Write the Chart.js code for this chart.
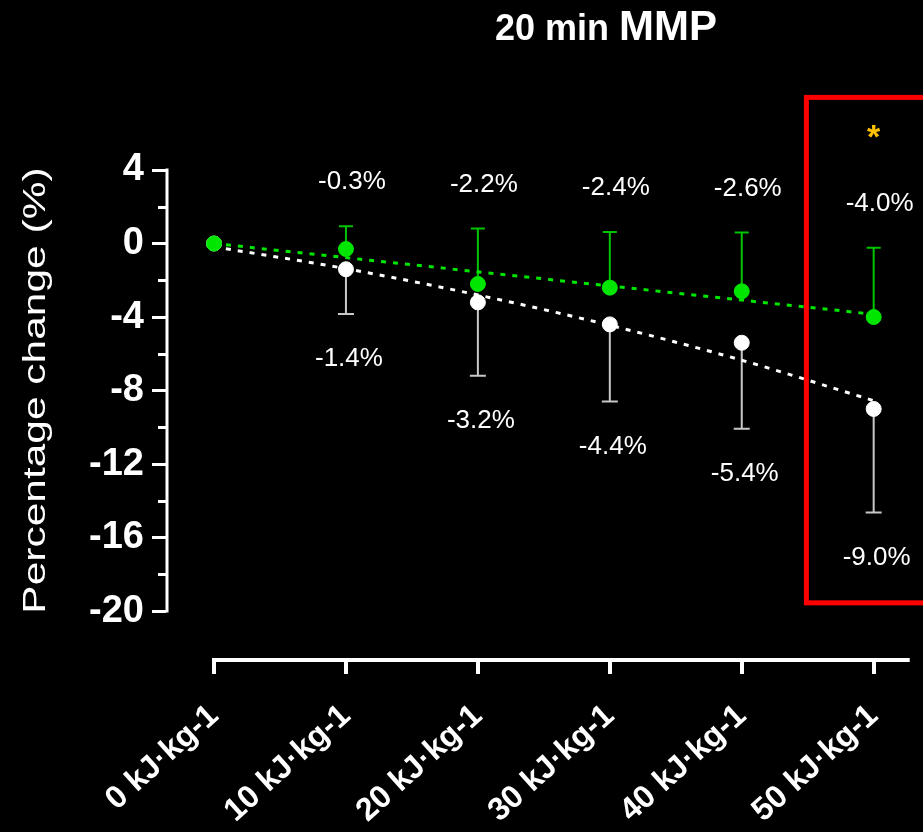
<!DOCTYPE html>
<html>
<head>
<meta charset="utf-8">
<script src="https://cdn.jsdelivr.net/npm/chart.js@4.4.1/dist/chart.umd.min.js"></script>
<style>
  html, body { margin: 0; padding: 0; background: #000; overflow: hidden; }
  #wrap { width: 923px; height: 832px; position: relative; }
</style>
</head>
<body>
<div id="wrap"><canvas id="mmp"></canvas></div>
<script>
// work done before the 20 min effort
const doseKJ = [0, 10, 20, 30, 40, 50];
const doseLabels = ['0 kJ·kg-1', '10 kJ·kg-1', '20 kJ·kg-1', '30 kJ·kg-1', '40 kJ·kg-1', '50 kJ·kg-1'];

// green group: mean % change and SD (bars drawn upwards)
const greenMean = [0, -0.3, -2.2, -2.4, -2.6, -4.0];
const greenSD = [0, 1.24, 3.02, 3.02, 3.2, 3.77];

// white group: mean % change and SD (bars drawn downwards)
const whiteMean = [0, -1.4, -3.2, -4.4, -5.4, -9.0];
const whiteSD = [0, 2.43, 3.99, 4.19, 4.68, 5.63];

// dotted trend lines
const greenTrendX = [0, 50];
const greenTrendY = [0, -3.85];
const whiteTrendY = [-0.18, -1.37, -2.8, -4.45, -6.35, -8.55];

const yTicks = [-20, -16, -12, -8, -4, 0, 4];
const yMinorTicks = [-18, -14, -10, -6, -2, 2];

const FONT = "'Liberation Sans', Arial, sans-serif";
const GREEN = '#00e600';
const WHITE = '#ffffff';

// error bars, value labels, axes lines, titles, highlight box
const decor = {
  id: 'decor',
  beforeDatasetsDraw(chart) {
    const ctx = chart.ctx, xs = chart.scales.x, ys = chart.scales.y;
    const bar = (dose, from, to, color, cap) => {
      const x = xs.getPixelForValue(dose);
      const y1 = ys.getPixelForValue(from), y2 = ys.getPixelForValue(to);
      ctx.strokeStyle = color;
      ctx.lineWidth = 2;
      ctx.beginPath();
      ctx.moveTo(x, y1); ctx.lineTo(x, y2);
      ctx.moveTo(x - cap, y2); ctx.lineTo(x + cap, y2);
      ctx.stroke();
    };
    ctx.save();
    for (let i = 1; i < doseKJ.length; i++) {
      bar(doseKJ[i], greenMean[i], greenMean[i] + greenSD[i], '#00c400', 7);
      bar(doseKJ[i], whiteMean[i], whiteMean[i] - whiteSD[i], '#c8c8c8', 8);
    }
    ctx.restore();
  },
  afterDraw(chart) {
    const ctx = chart.ctx, xs = chart.scales.x, ys = chart.scales.y, area = chart.chartArea;
    const o = chart.options.plugins.decor;
    ctx.save();

    // y axis line (stops at the outer ticks) + minor ticks
    ctx.strokeStyle = WHITE;
    ctx.lineWidth = 3;
    ctx.beginPath();
    ctx.moveTo(area.left + 1, ys.getPixelForValue(4) - 1.5);
    ctx.lineTo(area.left + 1, ys.getPixelForValue(-20) + 1.5);
    yMinorTicks.forEach(v => {
      const y = Math.round(ys.getPixelForValue(v)) + 0.5;
      ctx.moveTo(area.left + 2, y);
      ctx.lineTo(area.left - 8, y);
    });
    ctx.stroke();

    // x axis line, detached from the y axis
    ctx.lineWidth = 4;
    ctx.beginPath();
    ctx.moveTo(xs.getPixelForValue(0) - 2, area.bottom);
    ctx.lineTo(area.right, area.bottom);
    ctx.stroke();

    // value labels
    ctx.font = '26px ' + FONT;
    ctx.fillStyle = WHITE;
    ctx.textAlign = 'center';
    ctx.textBaseline = 'middle';
    for (let i = 1; i < doseKJ.length; i++) {
      const x = xs.getPixelForValue(doseKJ[i]);
      ctx.fillText(greenMean[i].toFixed(1) + '%', x + 6, ys.getPixelForValue(greenMean[i] + greenSD[i]) - 44);
      ctx.fillText(whiteMean[i].toFixed(1) + '%', x + 3, ys.getPixelForValue(whiteMean[i] - whiteSD[i]) + 45);
    }

    // highlight box and significance mark
    ctx.strokeStyle = '#ff0000';
    ctx.lineWidth = 5;
    const bx = xs.getPixelForValue(o.boxFrom);
    const by = ys.getPixelForValue(o.boxTop);
    const bb = ys.getPixelForValue(o.boxBottom);
    ctx.strokeRect(bx, by, chart.width + 20 - bx, bb - by);
    ctx.fillStyle = '#ffc000';
    ctx.font = 'bold 34px ' + FONT;
    ctx.fillText('*', xs.getPixelForValue(o.starAt[0]), ys.getPixelForValue(o.starAt[1]) + 6);

    // title with mixed sizes
    ctx.fillStyle = WHITE;
    ctx.textAlign = 'left';
    ctx.textBaseline = 'alphabetic';
    ctx.font = 'bold 36px ' + FONT;
    const t1 = '20 min ', w1 = ctx.measureText(t1).width;
    ctx.font = 'bold 42px ' + FONT;
    const t2 = 'MMP', w2 = ctx.measureText(t2).width;
    const tx = 606 - (w1 + w2) / 2;
    ctx.font = 'bold 36px ' + FONT;
    ctx.fillText(t1, tx, 40);
    ctx.font = 'bold 42px ' + FONT;
    ctx.fillText(t2, tx + w1, 40);

    // y axis title (wide type, so stretch along the text)
    ctx.translate(45, (ys.getPixelForValue(4) + ys.getPixelForValue(-20)) / 2);
    ctx.rotate(-Math.PI / 2);
    ctx.scale(1.37, 1);
    ctx.font = '31px ' + FONT;
    ctx.textAlign = 'center';
    ctx.fillText('Percentage change (%)', 0, 0);

    ctx.restore();
  }
};

const pts = (ys) => doseKJ.map((d, i) => ({ x: d, y: ys[i] }));

new Chart(document.getElementById('mmp'), {
  type: 'scatter',
  data: {
    datasets: [
      {
        type: 'line',
        data: greenTrendX.map((d, i) => ({ x: d, y: greenTrendY[i] })),
        borderColor: GREEN,
        borderWidth: 3,
        borderDash: [5, 7],
        pointRadius: 0,
        order: 4,
      },
      {
        type: 'line',
        data: pts(whiteTrendY),
        borderColor: WHITE,
        borderWidth: 3,
        borderDash: [5, 7],
        cubicInterpolationMode: 'monotone',
        pointRadius: 0,
        order: 3,
      },
      {
        data: pts(whiteMean),
        backgroundColor: WHITE,
        borderColor: WHITE,
        pointRadius: 7.5,
        order: 2,
      },
      {
        data: pts(greenMean),
        backgroundColor: GREEN,
        borderColor: GREEN,
        pointRadius: 7.5,
        order: 1,
      },
    ]
  },
  options: {
    responsive: true,
    maintainAspectRatio: false,
    devicePixelRatio: 1,
    animation: false,
    events: [],
    layout: { padding: { top: 170, right: 13, left: 0, bottom: 0 } },
    plugins: {
      legend: { display: false },
      tooltip: { enabled: false },
      decor: { boxFrom: 44.9, boxTop: 7.95, boxBottom: -19.55, starAt: [50, 6.05] },
    },
    scales: {
      x: {
        type: 'linear',
        min: -3.64,
        max: 52.73,
        afterBuildTicks: s => { s.ticks = doseKJ.map(v => ({ value: v })); },
        afterFit: s => { s.height = 172; },
        border: { display: false },
        grid: { drawOnChartArea: false, color: WHITE, lineWidth: 4, tickLength: 14 },
        ticks: {
          autoSkip: false,
          minRotation: 42,
          maxRotation: 42,
          padding: 23,
          color: WHITE,
          font: { family: FONT, size: 32, weight: 'bold' },
          callback: v => doseLabels[doseKJ.indexOf(v)],
        },
      },
      y: {
        min: -22.66,
        max: 4,
        afterBuildTicks: s => { s.ticks = yTicks.map(v => ({ value: v })); },
        afterFit: s => { s.width = 166; },
        border: { display: false },
        grid: { drawOnChartArea: false, color: WHITE, lineWidth: 3, tickLength: 14 },
        ticks: {
          padding: 8,
          color: WHITE,
          font: { family: FONT, size: 38, weight: 'bold' },
        },
      },
    },
  },
  plugins: [decor],
});
</script>
</body>
</html>
